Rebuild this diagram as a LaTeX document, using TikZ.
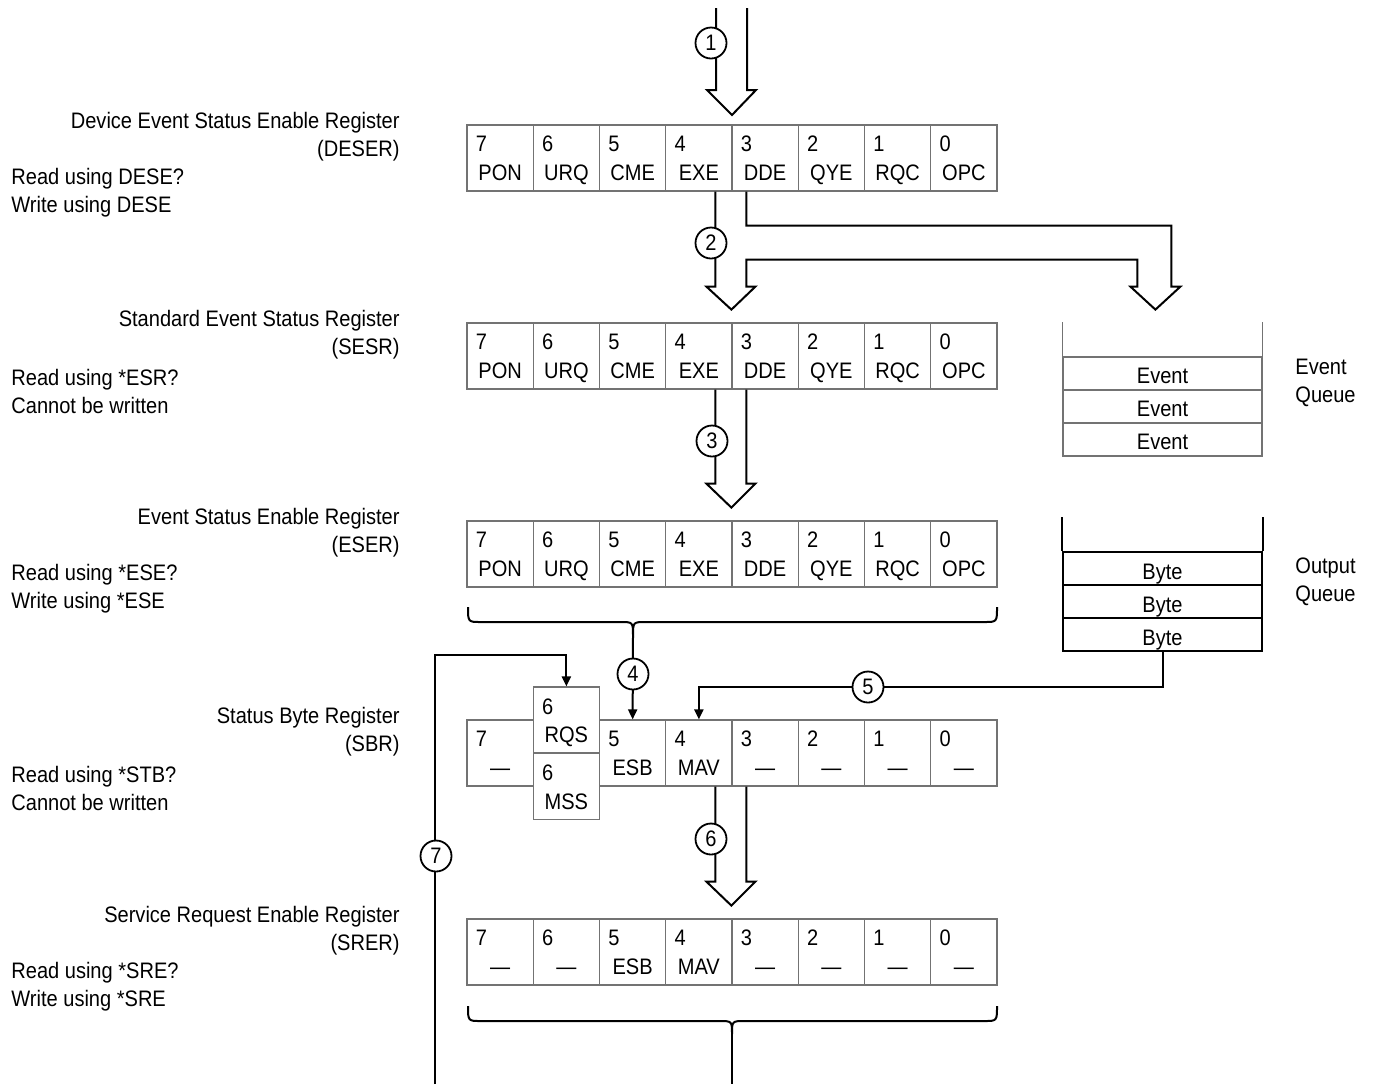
\documentclass[tikz,border=0pt]{standalone}
\usepackage{fontspec}
\setmainfont{Liberation Sans}[FakeStretch=0.895]
\usetikzlibrary{arrows.meta, positioning, calc}
\newcommand{\regfont}{\fontsize{11.2}{14}\selectfont}
\tikzset{
    reg_cell/.style={
        rectangle, draw=black!55, line width=0.6pt, fill=white,
        minimum width=33.125pt, minimum height=33pt, inner sep=0pt
    },
    bit_num/.style={anchor=base west, inner sep=0pt, font=\regfont},
    bit_name/.style={anchor=base, inner sep=0pt, font=\regfont},
    reg_title/.style={anchor=east, align=right, inner sep=0pt, font=\regfont},
    reg_note/.style={anchor=west, align=left, inner sep=0pt, font=\regfont},
    side_lbl/.style={anchor=west, align=left, inner sep=0pt, font=\regfont},
    ev_cell/.style={
        rectangle, draw=black!55, line width=0.6pt,
        minimum width=99.5pt, minimum height=16.5pt, inner sep=0pt, font=\regfont,
        text height=10pt, text depth=0pt
    },
    byte_cell/.style={
        rectangle, draw=black, line width=0.8pt,
        minimum width=99.5pt, minimum height=16.5pt, inner sep=0pt, font=\regfont,
        text height=11pt, text depth=0pt
    },
    ev_line/.style={draw=black!55, line width=0.6pt},
    byte_line/.style={draw=black, line width=0.8pt},
    hollow_arrow/.style={draw=black, line width=1pt, line join=miter},
    brace_line/.style={draw=black, line width=1pt},
    sig_arrow/.style={-{Triangle[length=5pt, width=4.5pt]}, draw=black, line width=1pt},
    num_circ/.style={
        circle, draw=black, line width=0.9pt, fill=white,
        minimum size=15.5pt, inner sep=0pt, font=\regfont
    }
}

\begin{document}
\begin{tikzpicture}[x=0.5pt, y=-0.5pt]
\useasboundingbox (0,0) rectangle (1375,1084);

% register names on the left
\foreach \reg/\ttl/\abbr/\rd/\wr/\top in {
    deser/Device Event Status Enable Register/DESER/Read using DESE?/Write using DESE/125,
    sesr/Standard Event Status Register/SESR/Read using *ESR?/Cannot be written/323,
    eser/Event Status Enable Register/ESER/Read using *ESE?/Write using *ESE/521,
    sbr/Status Byte Register/SBR/Read using *STB?/Cannot be written/720,
    srer/Service Request Enable Register/SRER/Read using *SRE?/Write using *SRE/919}{
    \node[reg_title] (\reg-title) at (400,{\top+11.5}) {\ttl\\(\abbr)};
    \node[reg_note] (\reg-note) at (11,{\top+68}) {\rd\\\wr};
}

% event registers
\foreach \reg/\top in {deser/125, sesr/323, eser/521}{
    \foreach \bit/\nm [count=\i from 0] in {7/PON, 6/URQ, 5/CME, 4/EXE, 3/DDE, 2/QYE, 1/RQC, 0/OPC}{
        \node[reg_cell] (\reg\bit) at ({500.125+66.25*\i},{\top+33}) {};
        \node[bit_num] at ([shift={(9,27)}]\reg\bit.north west) {\bit};
        \node[bit_name] at ([shift={(0,56)}]\reg\bit.north) {\nm};
    }
}

% status byte register
\foreach \bit/\nm/\i in {7/\textemdash/0, 5/ESB/2, 4/MAV/3, 3/\textemdash/4, 2/\textemdash/5, 1/\textemdash/6, 0/\textemdash/7}{
    \node[reg_cell] (sbr\bit) at ({500.125+66.25*\i},753) {};
    \node[bit_num] at ([shift={(9,27)}]sbr\bit.north west) {\bit};
    \node[bit_name] at ([shift={(0,56)}]sbr\bit.north) {\nm};
}
\node[reg_cell] (rqs) at (566.375,720) {};
\node[bit_num] at ([shift={(9,28)}]rqs.north west) {6};
\node[bit_name] at ([shift={(0,56)}]rqs.north) {RQS};
\node[reg_cell] (mss) at (566.375,786.5) {};
\node[bit_num] at ([shift={(9,28)}]mss.north west) {6};
\node[bit_name] at ([shift={(0,57)}]mss.north) {MSS};

% service request enable register
\foreach \bit/\nm [count=\i from 0] in {7/\textemdash, 6/\textemdash, 5/ESB, 4/MAV, 3/\textemdash, 2/\textemdash, 1/\textemdash, 0/\textemdash}{
    \node[reg_cell] (srer\bit) at ({500.125+66.25*\i},952) {};
    \node[bit_num] at ([shift={(9,27)}]srer\bit.north west) {\bit};
    \node[bit_name] at ([shift={(0,56)}]srer\bit.north) {\nm};
}

% queues
\foreach \k/\y in {1/373.5, 2/406.5, 3/439.5}
    \node[ev_cell] (evq\k) at (1162.5,\y) {Event};
\draw[ev_line] (evq1.north west) -- ++(0,-34);
\draw[ev_line] (evq1.north east) -- ++(0,-34);
\node[side_lbl] (evq-lbl) at (1295,383) {Event\\Queue};

\foreach \k/\y in {1/568.5, 2/601.5, 3/634.5}
    \node[byte_cell] (oq\k) at (1162.5,\y) {Byte};
\draw[byte_line] (oq1.north west) -- ++(0,-34);
\draw[byte_line] (oq1.north east) -- ++(0,-34);
\node[side_lbl] (oq-lbl) at (1295,582) {Output\\Queue};

% wide arrows
\coordinate (in1) at (732,8);
\draw[hollow_arrow] ([shift={(-16,0)}]in1) -- ++(0,82) -- ++(-9,0) -- ++(25,25)
    -- ++(24,-25) -- ++(-9,0) -- ++(0,-82);
\draw[hollow_arrow] ([shift={(-16,0)}]deser3.south west) -- ++(0,95) -- ++(-9,0)
    -- ++(25,23) -- ++(24,-23) -- ++(-9,0) -- ++(0,-27) -- ++(391,0) -- ++(0,27)
    -- ++(-7,0) -- ++(25,23) -- ++(25,-23) -- ++(-9,0) -- ++(0,-61) -- ++(-425,0)
    -- ++(0,-34);
\draw[hollow_arrow] ([shift={(-16,0)}]sesr3.south west) -- ++(0,94) -- ++(-9,0)
    -- ++(25,24) -- ++(24,-24) -- ++(-9,0) -- ++(0,-94);
\draw[hollow_arrow] ([shift={(-16,0)}]sbr3.south west) -- ++(0,95) -- ++(-9,0)
    -- ++(25,24) -- ++(24,-24) -- ++(-9,0) -- ++(0,-95);

% braces
\coordinate (b1) at (633,636);
\draw[brace_line] (468,607) .. controls (468,622) .. (481,622) -- (620,622)
    .. controls (633,622) .. (b1) .. controls (633,622) .. (646,622) -- (984,622)
    .. controls (997,622) .. (997,607);
\coordinate (b2) at (732,1034);
\coordinate (out2) at (732,1084);
\draw[brace_line] (468,1006) .. controls (468,1021) .. (481,1021) -- (719,1021)
    .. controls (732,1021) .. (b2) .. controls (732,1021) .. (745,1021) -- (984,1021)
    .. controls (997,1021) .. (997,1006);
\draw[brace_line] (b2) -- (out2);

% signal arrows
\draw[sig_arrow] (b1) -- (sbr5.north);
\draw[sig_arrow] (oq3.south) -- ++(0,35) -| (sbr4.north);
\coordinate (out7) at (435,1084);
\draw[sig_arrow] (out7) -- ++(0,-429) -| (rqs.north);

% step numbers
\node[num_circ] (c1) at (711,43) {1};
\node[num_circ] (c2) at (711,243) {2};
\node[num_circ] (c3) at (712,441) {3};
\node[num_circ] (c4) at (633,674) {4};
\node[num_circ] (c5) at (868,687) {5};
\node[num_circ] (c6) at (711,839) {6};
\node[num_circ] (c7) at (436,856) {7};
\end{tikzpicture}
\end{document}
